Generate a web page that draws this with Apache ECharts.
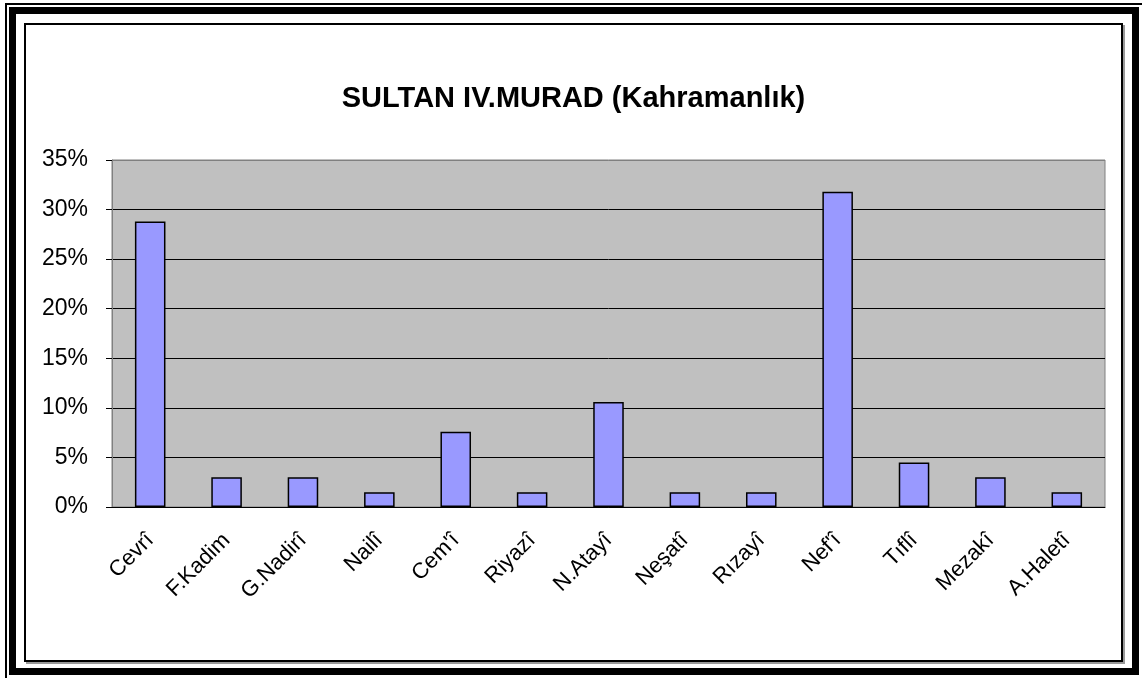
<!DOCTYPE html>
<html lang="tr">

<head>
    <meta charset="UTF-8">
    <title>SULTAN IV.MURAD (Kahramanlık)</title>
    <style>
        body {
            margin: 0;
            width: 1142px;
            height: 678px;
            overflow: hidden;
            background: #fff;
        }

        .thin {
            position: absolute;
            left: 5px;
            top: 3px;
            width: 1200px;
            height: 700px;
            border: 2px solid #000;
            box-sizing: border-box;
        }

        .thick {
            position: absolute;
            left: 9px;
            top: 7px;
            width: 1130px;
            height: 668px;
            border: 7px solid #000;
            box-sizing: border-box;
            background: #fff;
        }

        .box {
            position: absolute;
            left: 24px;
            top: 23px;
            width: 1095px;
            height: 635px;
            border: 2px solid #000;
            box-shadow: 2px 2px 0 #999;
            background: #fff;
        }
    </style>
    <script src="https://cdn.jsdelivr.net/npm/echarts@6/dist/echarts.min.js"></script>
</head>

<body>
    <div class="thin"></div>
    <div class="thick"></div>
    <div class="box" id="main"></div>
    <script>
        // şairler ve oranlar (%)
        const poets = ['Cevrî', 'F.Kadim', 'G.Nadirî', 'Nailî', "Cem'î", 'Riyazî', 'N.Atayî',
            'Neşatî', 'Rızayî', "Nef'î", 'Tıflî', 'Mezakî', 'A.Haletî'];
        const shares = [28.8, 3.0, 3.0, 1.5, 7.6, 1.5, 10.6, 1.5, 1.5, 31.8, 4.5, 3.0, 1.5];
        const yTicks = { min: 0, max: 35, step: 5 };

        const chart = echarts.init(document.getElementById('main'));
        const font = '"Liberation Sans", Arial, sans-serif';

        const option = {
            animation: false,
            title: {
                text: 'SULTAN IV.MURAD (Kahramanlık)',
                left: 'center',
                top: 59,
                padding: 0,
                textStyle: {
                    fontFamily: font,
                    fontSize: 29,
                    fontWeight: 'bold',
                    color: '#000'
                }
            },
            grid: {
                left: 86,
                right: 16,
                top: 135,
                bottom: 153,
                show: true,
                backgroundColor: '#c0c0c0',
                borderColor: '#808080',
                borderWidth: 1
            },
            xAxis: {
                type: 'category',
                data: poets,
                axisLine: { lineStyle: { color: '#000', width: 1 } },
                axisTick: { length: 6, lineStyle: { color: '#000' } },
                axisLabel: {
                    rotate: 45,
                    margin: 30,
                    interval: 0,
                    fontFamily: font,
                    fontSize: 22,
                    color: '#000'
                }
            },
            yAxis: {
                type: 'value',
                min: yTicks.min,
                max: yTicks.max,
                interval: yTicks.step,
                axisLine: { show: true, lineStyle: { color: '#808080' } },
                axisTick: { show: true, length: 6, lineStyle: { color: '#000' } },
                axisLabel: {
                    formatter: '{value}%',
                    margin: 24,
                    fontFamily: font,
                    fontSize: 23,
                    color: '#000'
                },
                splitLine: {
                    lineStyle: {
                        color: ['#000', '#000', '#000', '#000', '#000', '#000', '#000', '#808080'],
                        width: 1
                    }
                }
            },
            series: [{
                type: 'bar',
                data: shares,
                barCategoryGap: '60%',
                itemStyle: {
                    color: '#9999ff',
                    borderColor: '#000',
                    borderWidth: 1.5
                }
            }]
        };

        chart.setOption(option);
    </script>
</body>

</html>
